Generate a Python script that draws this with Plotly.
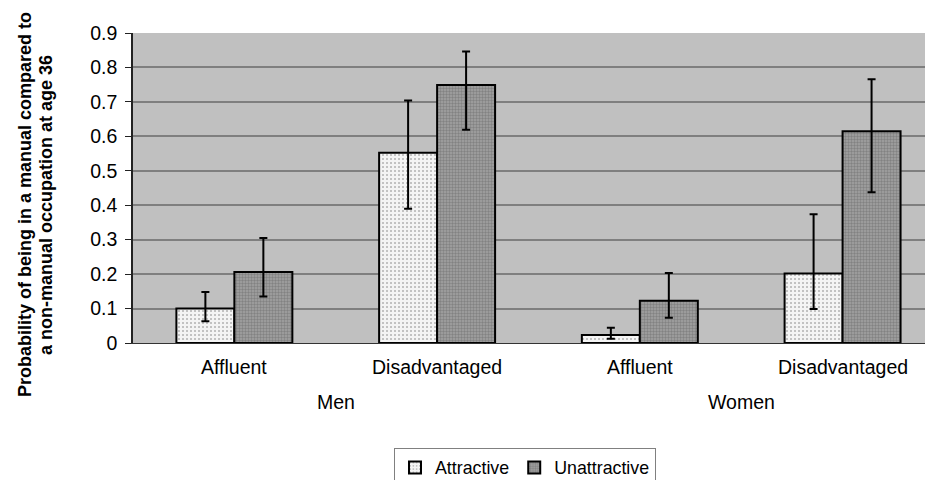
import plotly.graph_objects as go

groups = ["Men", "Men", "Women", "Women"]
subgroups = ["Affluent", "Disadvantaged", "Affluent", "Disadvantaged"]
attractive = [0.10, 0.552, 0.023, 0.202]
attractive_hi = [0.148, 0.704, 0.044, 0.374]
attractive_lo = [0.063, 0.390, 0.012, 0.099]
unattractive = [0.206, 0.749, 0.123, 0.615]
unattractive_hi = [0.305, 0.846, 0.203, 0.766]
unattractive_lo = [0.135, 0.619, 0.073, 0.438]
yticks = [0, 0.1, 0.2, 0.3, 0.4, 0.5, 0.6, 0.7, 0.8, 0.9]

FONT = "Liberation Sans, Arial, sans-serif"
xs = list(range(len(subgroups)))

fig = go.Figure()
fig.add_trace(go.Bar(
    x=xs, y=attractive, name="Attractive",
    marker=dict(color="#f4f4f4", line=dict(color="black", width=2),
                pattern=dict(shape=".", fgcolor="#6e6e6e", bgcolor="#f4f4f4", size=4, solidity=0.2)),
    error_y=dict(type="data", symmetric=False,
                 array=[h - v for h, v in zip(attractive_hi, attractive)],
                 arrayminus=[v - l for v, l in zip(attractive, attractive_lo)],
                 color="black", thickness=2, width=4),
))
fig.add_trace(go.Bar(
    x=xs, y=unattractive, name="Unattractive",
    marker=dict(color="#8a8a8a", line=dict(color="black", width=2),
                pattern=dict(shape=".", fgcolor="#626262", bgcolor="#a2a2a2", size=3, solidity=0.5)),
    error_y=dict(type="data", symmetric=False,
                 array=[h - v for h, v in zip(unattractive_hi, unattractive)],
                 arrayminus=[v - l for v, l in zip(unattractive, unattractive_lo)],
                 color="black", thickness=2, width=4),
))

annotations = []
for i, s in enumerate(subgroups):
    annotations.append(dict(x=i, y=0, xref="x", yref="y", yshift=-24, text=s, showarrow=False,
                            font=dict(family=FONT, size=19.5, color="black"), yanchor="middle"))
for g, xc in [("Men", 0.5), ("Women", 2.5)]:
    annotations.append(dict(x=xc, y=0, xref="x", yref="y", yshift=-59, text=g, showarrow=False,
                            font=dict(family=FONT, size=19.5, color="black"), yanchor="middle"))
title_lines = ["Probability of being in a manual compared to", "a non-manual occupation at age 36"]
for line, xs_px in zip(title_lines, [-108, -87]):
    annotations.append(dict(
        x=-0.5, xref="x", xshift=xs_px, y=0.5, yref="paper", yshift=-17,
        text=line, textangle=-90, showarrow=False, xanchor="center", yanchor="middle",
        font=dict(family=FONT, size=18, color="black", weight="bold")))

shapes = []
for xv, depth, col in [(-0.5, 72, "#404040"), (0.5, 35, "#8c8c8c"), (1.5, 71, "#8c8c8c"),
                       (2.5, 35, "#8c8c8c")]:
    shapes.append(dict(type="line", xref="x", x0=xv, x1=xv, yref="y", ysizemode="pixel",
                       yanchor=0, y0=0, y1=-depth, line=dict(color=col, width=1.3)))

# the page body has an 8px margin, so the figure is 8px smaller to fill the 933x480 window
fig.update_layout(
    width=925, height=472,
    margin=dict(l=125, r=0, t=25, b=137, autoexpand=False),
    paper_bgcolor="white", plot_bgcolor="#c0c0c0",
    barmode="group", bargap=0.428, bargroupgap=0,
    font=dict(family=FONT, size=17.8, color="black"),
    xaxis=dict(range=[-0.5, 3.446], showticklabels=False, ticks="", showgrid=False,
               zeroline=False, showline=True, linecolor="#333333", linewidth=1.3),
    yaxis=dict(range=[0, 0.9], tickvals=yticks, ticktext=[f"{v:g}" for v in yticks],
               showgrid=True, gridcolor="#7f7f7f", gridwidth=1.8, zeroline=False,
               showline=True, linecolor="#222222", linewidth=1.5,
               ticks="outside", ticklen=6, tickcolor="#222222", tickwidth=1.3,
               ticklabelstandoff=4,
               tickfont=dict(family=FONT, size=19.5, color="black")),
    legend=dict(orientation="h", x=0.49, xanchor="center", y=-0.34, yanchor="top",
                bordercolor="#808080", borderwidth=1, bgcolor="white",
                font=dict(family=FONT, size=17.8, color="black"), itemwidth=30),
    showlegend=True,
    annotations=annotations, shapes=shapes,
)

fig.write_html("out.html")
